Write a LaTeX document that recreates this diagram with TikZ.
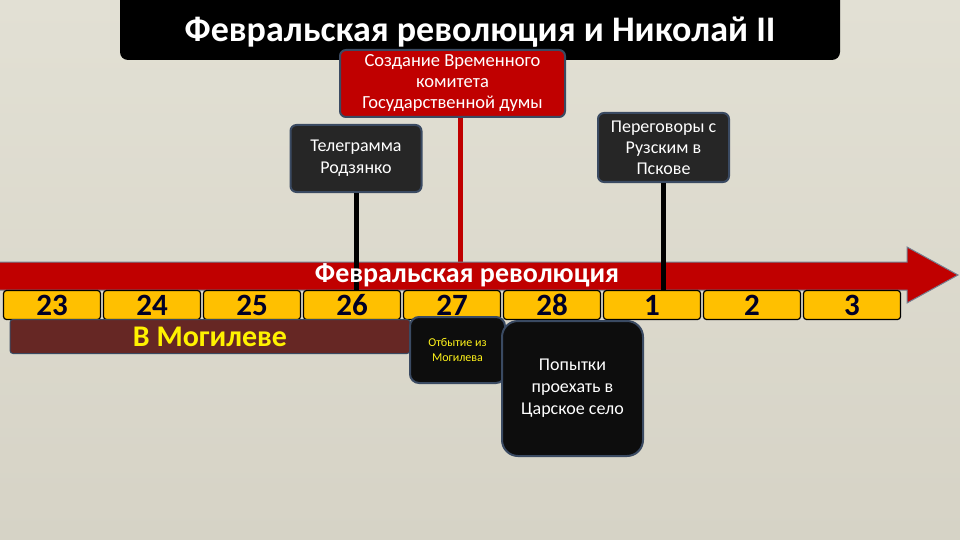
\documentclass[tikz,border=0pt]{standalone}
\usepackage{fontspec}
\setmainfont{Carlito}
\definecolor{bgtop}{HTML}{E2E0D4}
\definecolor{bgbot}{HTML}{D6D3C6}
\definecolor{arrowred}{HTML}{C00000}
\definecolor{edgeblue}{HTML}{3A4A62}
\definecolor{cellyel}{HTML}{FFC000}
\definecolor{brown}{HTML}{662724}
\definecolor{darkbox}{HTML}{262626}
\definecolor{blackbox}{HTML}{0D0D0D}
\tikzset{
  evbox/.style={draw=edgeblue, line width=2pt, rounded corners=6pt, text=white, align=center, inner sep=0pt},
  cellbox/.style={draw=black, line width=1.2pt, fill=cellyel, rounded corners=3pt, minimum width=97pt, minimum height=29pt, inner sep=0pt, font=\fontsize{31}{31}\selectfont\bfseries, text=black!85!blue},
  stem/.style={line width=5pt},
}
\begin{document}
\begin{tikzpicture}[x=1pt,y=-1pt]
\useasboundingbox (0,0) rectangle (960,540);
\shade[top color=bgtop, bottom color=bgbot] (0,0) rectangle (960,540);
% title
\fill[black, rounded corners=8pt] (120,-12) rectangle (840,60);
\node[text=white, font=\fontsize{36}{36}\selectfont\bfseries] (title) at (480,32) {Февральская революция и Николай II};
% top event boxes
\node[evbox, fill=arrowred, minimum width=225pt, minimum height=67pt, font=\fontsize{18.5}{21}\selectfont] (duma) at (452.5,83.5) {Создание Временного\\комитета\\Государственной думы};
\node[evbox, fill=darkbox, minimum width=131pt, minimum height=67pt, font=\fontsize{18}{22}\selectfont] (tele) at (356,158.5) {Телеграмма\\Родзянко};
\node[evbox, fill=darkbox, minimum width=131pt, minimum height=69pt, font=\fontsize{18}{21}\selectfont] (pskov) at (663.5,147.5) {Переговоры с\\Рузским в\\Пскове};
% cells (named coordinates for the stems)
\foreach \n/\i in {23/0,24/1,25/2,26/3,27/4,28/5,1/6,2/7,3/8}{
  \coordinate (p\n) at (52+100*\i,305);
}
% red stem
\draw[stem, arrowred] ([xshift=7.5pt]duma.south) -- ([xshift=7.5pt]duma.south |- 0,263);
% arrow
\draw[fill=arrowred, draw=edgeblue!70, line width=1pt, line join=miter]
  (-2,262) -- (907,262) -- (907,247) -- (958,275) -- (907,303) -- (907,290) -- (-2,290) -- cycle;
% black stems
\draw[stem, black] (tele.south) -- (tele.south |- 0,290);
\draw[stem, black] (pskov.south) -- (pskov.south |- 0,290);
\node[text=white, font=\fontsize{28}{28}\selectfont\bfseries] (rev) at (467,275) {Февральская революция};
% cells
\foreach \n in {23,24,25,26,27,28,1,2,3}{
  \node[cellbox] (c\n) at (p\n) {\n};
}
% lower boxes
\node[draw=edgeblue, line width=1pt, fill=brown, rounded corners=3pt, minimum width=400pt, minimum height=34pt, inner sep=0pt, text=yellow, font=\fontsize{30}{30}\selectfont\bfseries] (mog) at (210,336.5) {В Могилеве};
\node[evbox, fill=blackbox, rounded corners=9pt, minimum width=95pt, minimum height=66pt, text=yellow!90!white, font=\fontsize{12}{15}\selectfont] (otb) at (457.5,350) {Отбытие из\\Могилева};
\node[evbox, fill=blackbox, rounded corners=16pt, minimum width=141pt, minimum height=135pt, font=\fontsize{18}{22}\selectfont] (tsar) at (572.5,388.5) {Попытки\\проехать в\\Царское село};
\end{tikzpicture}
\end{document}
